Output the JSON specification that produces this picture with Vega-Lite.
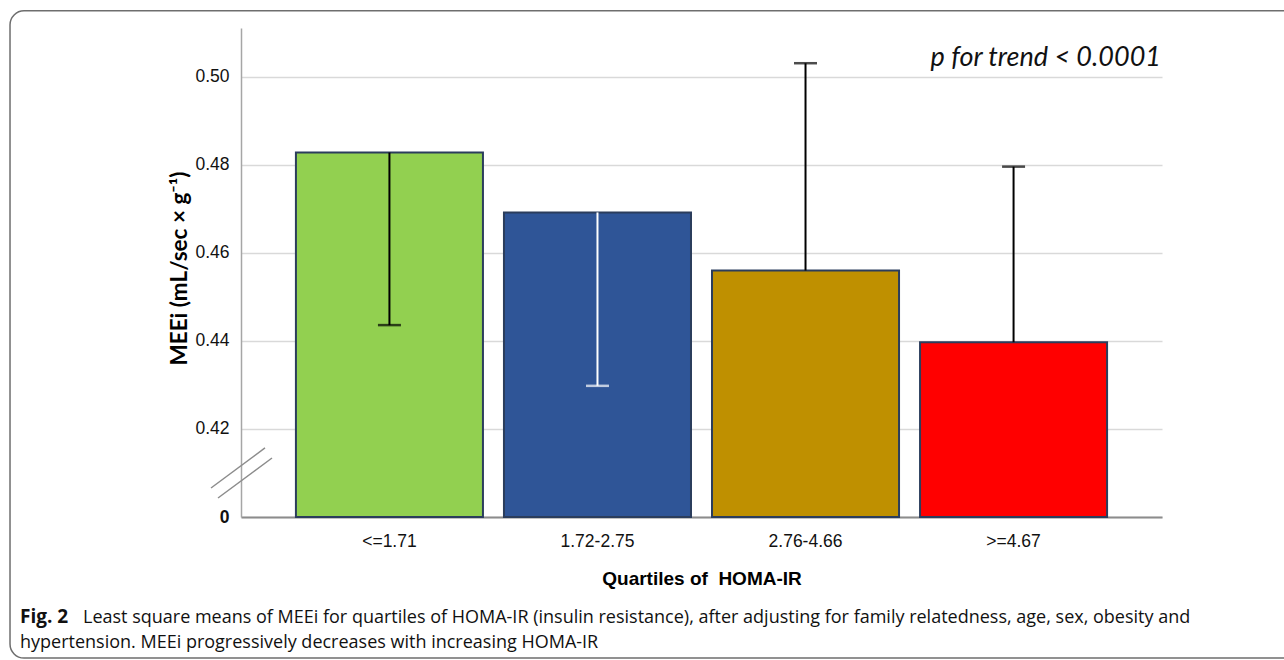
{
  "$schema": "https://vega.github.io/schema/vega-lite/v6.json",
  "autosize": {"type": "none"},
  "width": 921,
  "height": 489,
  "padding": {"left": 241, "top": 28, "right": 122, "bottom": 143},
  "background": "white",
  "config": {"view": {"stroke": null}},
  "layer": [
    {
      "data": {"values": [
        {"q": "<=1.71", "mean": 0.4828, "err": 0.4436},
        {"q": "1.72-2.75", "mean": 0.4692, "err": 0.4298},
        {"q": "2.76-4.66", "mean": 0.4560, "err": 0.5031},
        {"q": ">=4.67", "mean": 0.4397, "err": 0.4796}
      ]},
      "encoding": {
        "x": {
          "field": "q", "type": "nominal", "sort": null,
          "scale": {"paddingInner": 0.101, "paddingOuter": 0.264},
          "axis": {
            "title": "Quartiles of\u00a0 HOMA-IR",
            "titleFont": "Liberation Sans", "titleFontSize": 19, "titleFontWeight": "bold", "titleColor": "#000",
            "titleY": 67, "titleBaseline": "alphabetic",
            "labelFont": "Liberation Sans", "labelFontSize": 17.5, "labelColor": "#111",
            "labelAngle": 0, "labelBaseline": "alphabetic", "labelPadding": 29,
            "ticks": false, "tickSize": 0,
            "domainColor": "#8c8c8c", "domainWidth": 2, "grid": false
          }
        }
      },
      "layer": [
        {
          "mark": {"type": "bar", "stroke": "#2b3d5c", "strokeWidth": 2},
          "encoding": {
            "y": {
              "field": "mean", "type": "quantitative",
              "scale": {"domain": [0.4, 0.5111], "nice": false, "zero": false},
              "axis": {
                "values": [0.4, 0.42, 0.44, 0.46, 0.48, 0.5],
                "labelExpr": "datum.value < 0.41 ? '0' : format(datum.value, '.2f')",
                "labelFont": "Liberation Sans", "labelFontSize": 17.5, "labelColor": "#111",
                "labelFontWeight": {"condition": {"test": "datum.value < 0.41", "value": "bold"}, "value": "normal"},
                "labelPadding": 12, "ticks": false, "tickSize": 0,
                "domainColor": "#a6a6a6", "domainWidth": 1.5,
                "gridColor": "#d9d9d9", "gridWidth": 1.5,
                "title": "MEEi (mL/sec × g⁻¹)",
                "titleFont": "Lato", "titleFontSize": 22.5, "titleFontWeight": "bold", "titleColor": "#000",
                "titleX": -55, "titleY": 240, "titleBaseline": "alphabetic"
              }
            },
            "y2": {"datum": 0.4},
            "color": {
              "field": "q", "type": "nominal", "legend": null,
              "scale": {"domain": ["<=1.71", "1.72-2.75", "2.76-4.66", ">=4.67"], "range": ["#92d050", "#2f5597", "#bf9000", "#ff0000"]}
            }
          }
        },
        {
          "mark": {"type": "rule", "strokeWidth": 2},
          "encoding": {
            "y": {"field": "mean", "type": "quantitative"},
            "y2": {"field": "err"},
            "color": {"condition": {"test": "datum.q == '1.72-2.75'", "value": "#ffffff"}, "value": "#000000"}
          }
        },
        {
          "mark": {"type": "tick", "orient": "horizontal", "size": 23, "thickness": 2.5},
          "encoding": {
            "y": {"field": "err", "type": "quantitative"},
            "color": {"condition": {"test": "datum.q == '1.72-2.75'", "value": "#ffffff"}, "value": "#000000"}
          }
        }
      ]
    },
    {
      "data": {"values": [{}]},
      "layer": [
        {
          "mark": {"type": "rect", "fill": null, "fillOpacity": 0, "stroke": "#6e6e6e", "strokeWidth": 1.5, "cornerRadius": 14},
          "encoding": {
            "x": {"datum": -0.2508, "type": "quantitative", "scale": {"domain": [0, 1], "nice": false, "zero": false}, "axis": null},
            "x2": {"datum": 1.16},
            "y": {"datum": 0.515, "type": "quantitative"},
            "y2": {"datum": 0.36795}
          }
        },
        {
          "mark": {"type": "rule", "stroke": "#8c8c8c", "strokeWidth": 1.5},
          "encoding": {
            "x": {"datum": -0.03257, "type": "quantitative", "scale": {"domain": [0, 1], "nice": false, "zero": false}, "axis": null},
            "x2": {"datum": 0.02606},
            "y": {"datum": 0.406591, "type": "quantitative"},
            "y2": {"datum": 0.415682}
          }
        },
        {
          "mark": {"type": "rule", "stroke": "#8c8c8c", "strokeWidth": 1.5},
          "encoding": {
            "x": {"datum": -0.02497, "type": "quantitative", "scale": {"domain": [0, 1], "nice": false, "zero": false}, "axis": null},
            "x2": {"datum": 0.03366},
            "y": {"datum": 0.404318, "type": "quantitative"},
            "y2": {"datum": 0.413409}
          }
        },
        {
          "mark": {"type": "text", "font": "Lato", "fontStyle": "italic", "fontSize": 27, "align": "right", "baseline": "alphabetic", "color": "#111"},
          "encoding": {
            "x": {"datum": 0.9989, "type": "quantitative", "scale": {"domain": [0, 1], "nice": false, "zero": false}, "axis": null},
            "y": {"datum": 0.5025, "type": "quantitative"},
            "text": {"value": "p for trend < 0.0001"}
          }
        },
        {
          "mark": {"type": "text", "font": "Open Sans", "fontWeight": "bold", "fontSize": 19, "align": "left", "baseline": "alphabetic", "color": "#111"},
          "encoding": {
            "x": {"datum": -0.23996, "type": "quantitative", "scale": {"domain": [0, 1], "nice": false, "zero": false}, "axis": null},
            "y": {"datum": 0.375909, "type": "quantitative"},
            "text": {"value": "Fig. 2"}
          }
        },
        {
          "mark": {"type": "text", "font": "Open Sans", "fontSize": 18, "align": "left", "baseline": "alphabetic", "color": "#111"},
          "encoding": {
            "x": {"datum": -0.17155, "type": "quantitative", "scale": {"domain": [0, 1], "nice": false, "zero": false}, "axis": null},
            "y": {"datum": 0.375909, "type": "quantitative"},
            "text": {"value": "Least square means of MEEi for quartiles of HOMA-IR (insulin resistance), after adjusting for family relatedness, age, sex, obesity and"}
          }
        },
        {
          "mark": {"type": "text", "font": "Open Sans", "fontSize": 18, "align": "left", "baseline": "alphabetic", "color": "#111"},
          "encoding": {
            "x": {"datum": -0.23996, "type": "quantitative", "scale": {"domain": [0, 1], "nice": false, "zero": false}, "axis": null},
            "y": {"datum": 0.370227, "type": "quantitative"},
            "text": {"value": "hypertension. MEEi progressively decreases with increasing HOMA-IR"}
          }
        }
      ]
    }
  ],
  "resolve": {"scale": {"x": "independent", "color": "independent"}}
}
